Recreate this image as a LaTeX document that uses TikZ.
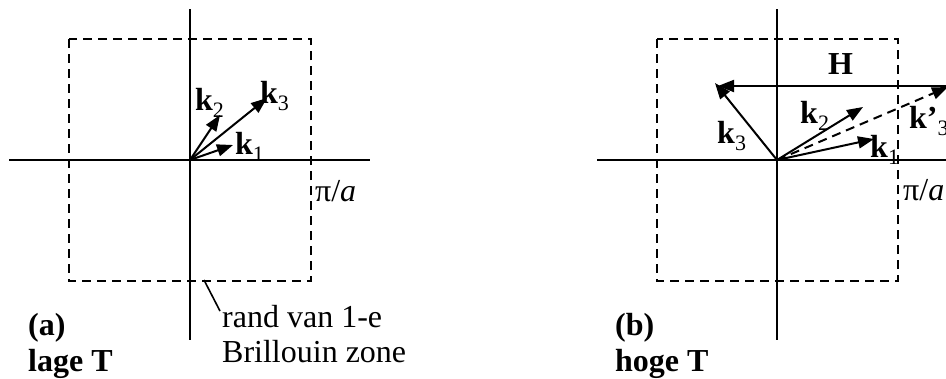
\documentclass[tikz,border=0pt]{standalone}
\usepackage{fontspec}
\setmainfont{Liberation Serif}
\usetikzlibrary{arrows.meta}
\newcommand{\kvec}[1]{\textbf{k}\raisebox{-0.22em}{\fontsize{22}{24}\selectfont #1}}
\begin{document}
\begin{tikzpicture}[x=1pt,y=-1pt,
  axis/.style={line width=2.8pt},
  zone/.style={line width=2.8pt,dash pattern=on 9pt off 6pt},
  vec/.style={line width=2pt,-{Triangle[length=16pt,width=12pt]}},
  lbl/.style={inner sep=0pt,anchor=base west,font=\fontsize{32}{36}\selectfont}]
\useasboundingbox (0,0) rectangle (946,378);
% ---------- panel (a) ----------
\coordinate (Oa) at (190,160);
\coordinate (aT) at (190,9);
\coordinate (aB) at (190,340);
\coordinate (aL) at (9,160);
\coordinate (aR) at (370,160);
\draw[zone] (69,39) rectangle (311,281);
\draw[axis] (aT) -- (aB);
\draw[axis] (aL) -- (aR);
\coordinate (ak1) at (233,145);
\coordinate (ak2) at (220,115);
\coordinate (ak3) at (267,98);
\draw[vec] (Oa) -- (ak1);
\draw[vec] (Oa) -- (ak2);
\draw[vec] (Oa) -- (ak3);
\node[lbl] (la1) at (235,154) {\kvec{1}};
\node[lbl] (la2) at (195,110) {\kvec{2}};
\node[lbl] (la3) at (260,103) {\kvec{3}};
\node[lbl] (pia) at (315,201) {π/\textit{a}};
\coordinate (pa1) at (204,280);
\coordinate (pa2) at (220,311);
\draw[line width=1.6pt] (pa1) -- (pa2);
\node[lbl] (rand) at (222,327) {rand van 1-e};
\node[lbl] (bril) at (222,362) {Brillouin zone};
\node[lbl] (a) at (28,335) {\textbf{(a)}};
\node[lbl] (lage) at (28,371) {\textbf{lage T}};
% ---------- panel (b) ----------
\coordinate (Ob) at (777,160);
\coordinate (bT) at (777,9);
\coordinate (bB) at (777,340);
\coordinate (bL) at (597,160);
\coordinate (bR) at (960,160);
\draw[zone] (657,39) rectangle (898,281);
\draw[axis] (bT) -- (bB);
\draw[axis] (bL) -- (bR);
\coordinate (bk1) at (874,139);
\coordinate (bk2) at (863,107);
\coordinate (bk3) at (715,83);
\coordinate (bk3p) at (948,87);
\coordinate (bH) at (948,86);
\coordinate (bHe) at (718,86);
\draw[vec] (Ob) -- (bk1);
\draw[vec] (Ob) -- (bk2);
\draw[vec] (Ob) -- (bk3);
\draw[line width=2pt,dash pattern=on 9pt off 6pt,-{Triangle[length=16pt,width=12pt]}] (Ob) -- (bk3p);
\draw[vec] (bH) -- (bHe);
\node[lbl] (H) at (828,74) {\textbf{H}};
\node[lbl] (lb1) at (870,157) {\kvec{1}};
\node[lbl] (lb2) at (800,123) {\kvec{2}};
\node[lbl] (lb3) at (717,143) {\kvec{3}};
\node[lbl] (lb3p) at (909,128) {\textbf{k’}\raisebox{-0.22em}{\fontsize{22}{24}\selectfont 3}};
\node[lbl] (pib) at (903,200) {π/\textit{a}};
\node[lbl] (b) at (615,335) {\textbf{(b)}};
\node[lbl] (hoge) at (615,371) {\textbf{hoge T}};
\end{tikzpicture}
\end{document}
